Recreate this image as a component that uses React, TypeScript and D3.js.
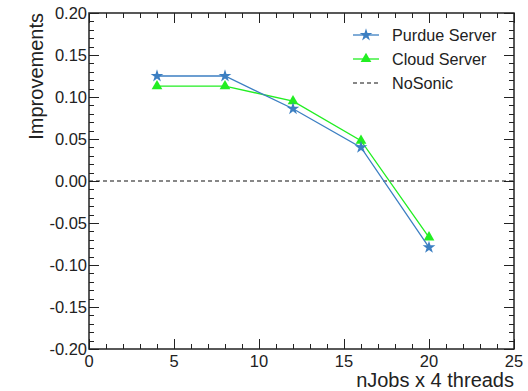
import React, { useRef, useEffect } from "react";
import * as d3 from "d3";

const nJobs = [4, 8, 12, 16, 20];
const purdue = [0.125, 0.125, 0.086, 0.04, -0.079];
const cloud = [0.113, 0.113, 0.095, 0.048, -0.067];
const xTicks = [0, 5, 10, 15, 20, 25];
const yTicks = [-0.2, -0.15, -0.1, -0.05, 0, 0.05, 0.1, 0.15, 0.2];
const legendLabels = ["Purdue Server", "Cloud Server", "NoSonic"];

export default function App() {
  const ref = useRef<SVGSVGElement>(null);

  useEffect(() => {
    if (!ref.current) return;
    const svg = d3.select(ref.current);
    svg.selectAll("*").remove();

    const w = 528, h = 391;
    const margin = { top: 13, right: 14, bottom: 42, left: 89 };
    const font = "'Liberation Sans', Arial, sans-serif";

    const x = d3.scaleLinear().domain([0, 25]).range([margin.left, w - margin.right]);
    const y = d3.scaleLinear().domain([-0.2, 0.2]).range([h - margin.bottom, margin.top]);
    const x0 = x(0), x1 = x(25), y0 = y(-0.2), y1 = y(0.2);

    svg.append("rect").attr("width", w).attr("height", h).attr("fill", "#fff");

    // minor + major ticks on all four sides
    const g = svg.append("g").attr("stroke", "#222").attr("stroke-width", 1);
    d3.range(0, 26, 1).forEach(v => {
      const len = v % 5 === 0 ? 10 : 5;
      const px = Math.round(x(v)) + 0.5;
      g.append("line").attr("x1", px).attr("x2", px).attr("y1", y0).attr("y2", y0 - len);
      g.append("line").attr("x1", px).attr("x2", px).attr("y1", y1).attr("y2", y1 + len);
    });
    d3.range(-20, 21, 1).forEach(i => {
      const v = i / 100;
      const len = i % 5 === 0 ? 10 : 5;
      const py = Math.round(y(v)) + 0.5;
      g.append("line").attr("x1", x0).attr("x2", x0 + len).attr("y1", py).attr("y2", py);
      g.append("line").attr("x1", x1).attr("x2", x1 - len).attr("y1", py).attr("y2", py);
    });

    // tick labels
    svg.append("g").selectAll("text").data(xTicks).join("text")
      .attr("x", d => x(d)).attr("y", y0 + 18)
      .attr("text-anchor", "middle")
      .attr("font-family", font).attr("font-size", 16.5).attr("fill", "#222")
      .text(d => String(d));
    svg.append("g").selectAll("text").data(yTicks).join("text")
      .attr("x", x0 - 2).attr("y", d => y(d) + 6)
      .attr("text-anchor", "end")
      .attr("font-family", font).attr("font-size", 16.5).attr("fill", "#222")
      .text(d => d.toFixed(2));

    // axis titles
    svg.append("text")
      .attr("x", x1).attr("y", h - 4)
      .attr("text-anchor", "end")
      .attr("font-family", font).attr("font-size", 20).attr("fill", "#222")
      .text("nJobs x 4 threads");
    svg.append("text")
      .attr("transform", `translate(43,${y1}) rotate(-90)`)
      .attr("text-anchor", "end")
      .attr("font-family", font).attr("font-size", 20).attr("fill", "#222")
      .text("Improvements");

    // NoSonic zero line
    svg.append("line")
      .attr("x1", x0).attr("x2", x1).attr("y1", y(0)).attr("y2", y(0))
      .attr("stroke", "#111").attr("stroke-width", 1.2).attr("stroke-dasharray", "4,3");

    const line = d3.line<number>().x((_, i) => x(nJobs[i])).y(d => y(d));
    const blue = "#3c7fc2";
    const green = "#22ee22";
    const star = d3.symbol().type(d3.symbolStar).size(50);
    const tri = d3.symbol().type(d3.symbolTriangle).size(50);

    svg.append("path").datum(cloud).attr("d", line)
      .attr("fill", "none").attr("stroke", green).attr("stroke-width", 1.3);
    svg.append("g").selectAll("path").data(cloud).join("path")
      .attr("d", tri()).attr("fill", green)
      .attr("transform", (d, i) => `translate(${x(nJobs[i])},${y(d)})`);

    svg.append("path").datum(purdue).attr("d", line)
      .attr("fill", "none").attr("stroke", blue).attr("stroke-width", 1.3);
    svg.append("g").selectAll("path").data(purdue).join("path")
      .attr("d", star()).attr("fill", blue)
      .attr("transform", (d, i) => `translate(${x(nJobs[i])},${y(d)})`);

    // frame
    svg.append("rect")
      .attr("x", x0).attr("y", y1).attr("width", x1 - x0).attr("height", y0 - y1)
      .attr("fill", "none").attr("stroke", "#222").attr("stroke-width", 1.5);

    // legend
    const lg = svg.append("g");
    const lx = 353, ly = 35, dy = 24;
    legendLabels.forEach((label, i) => {
      const yy = ly + i * dy;
      if (i < 2) {
        const c = i === 0 ? blue : green;
        lg.append("line").attr("x1", lx).attr("x2", lx + 26).attr("y1", yy).attr("y2", yy)
          .attr("stroke", c).attr("stroke-width", 1.3);
        lg.append("path").attr("d", i === 0 ? star() : tri()).attr("fill", c)
          .attr("transform", `translate(${lx + 13},${yy})`);
      } else {
        lg.append("line").attr("x1", lx).attr("x2", lx + 26).attr("y1", yy).attr("y2", yy)
          .attr("stroke", "#111").attr("stroke-width", 1.2).attr("stroke-dasharray", "4,3");
      }
      lg.append("text").attr("x", lx + 39).attr("y", yy + 6)
        .attr("font-family", font).attr("font-size", 16.2).attr("fill", "#222")
        .text(label);
    });
  }, []);

  return (
    <svg
      ref={ref}
      width={528}
      height={391}
      style={{ position: "absolute", left: 0, top: 0, display: "block" }}
    />
  );
}
